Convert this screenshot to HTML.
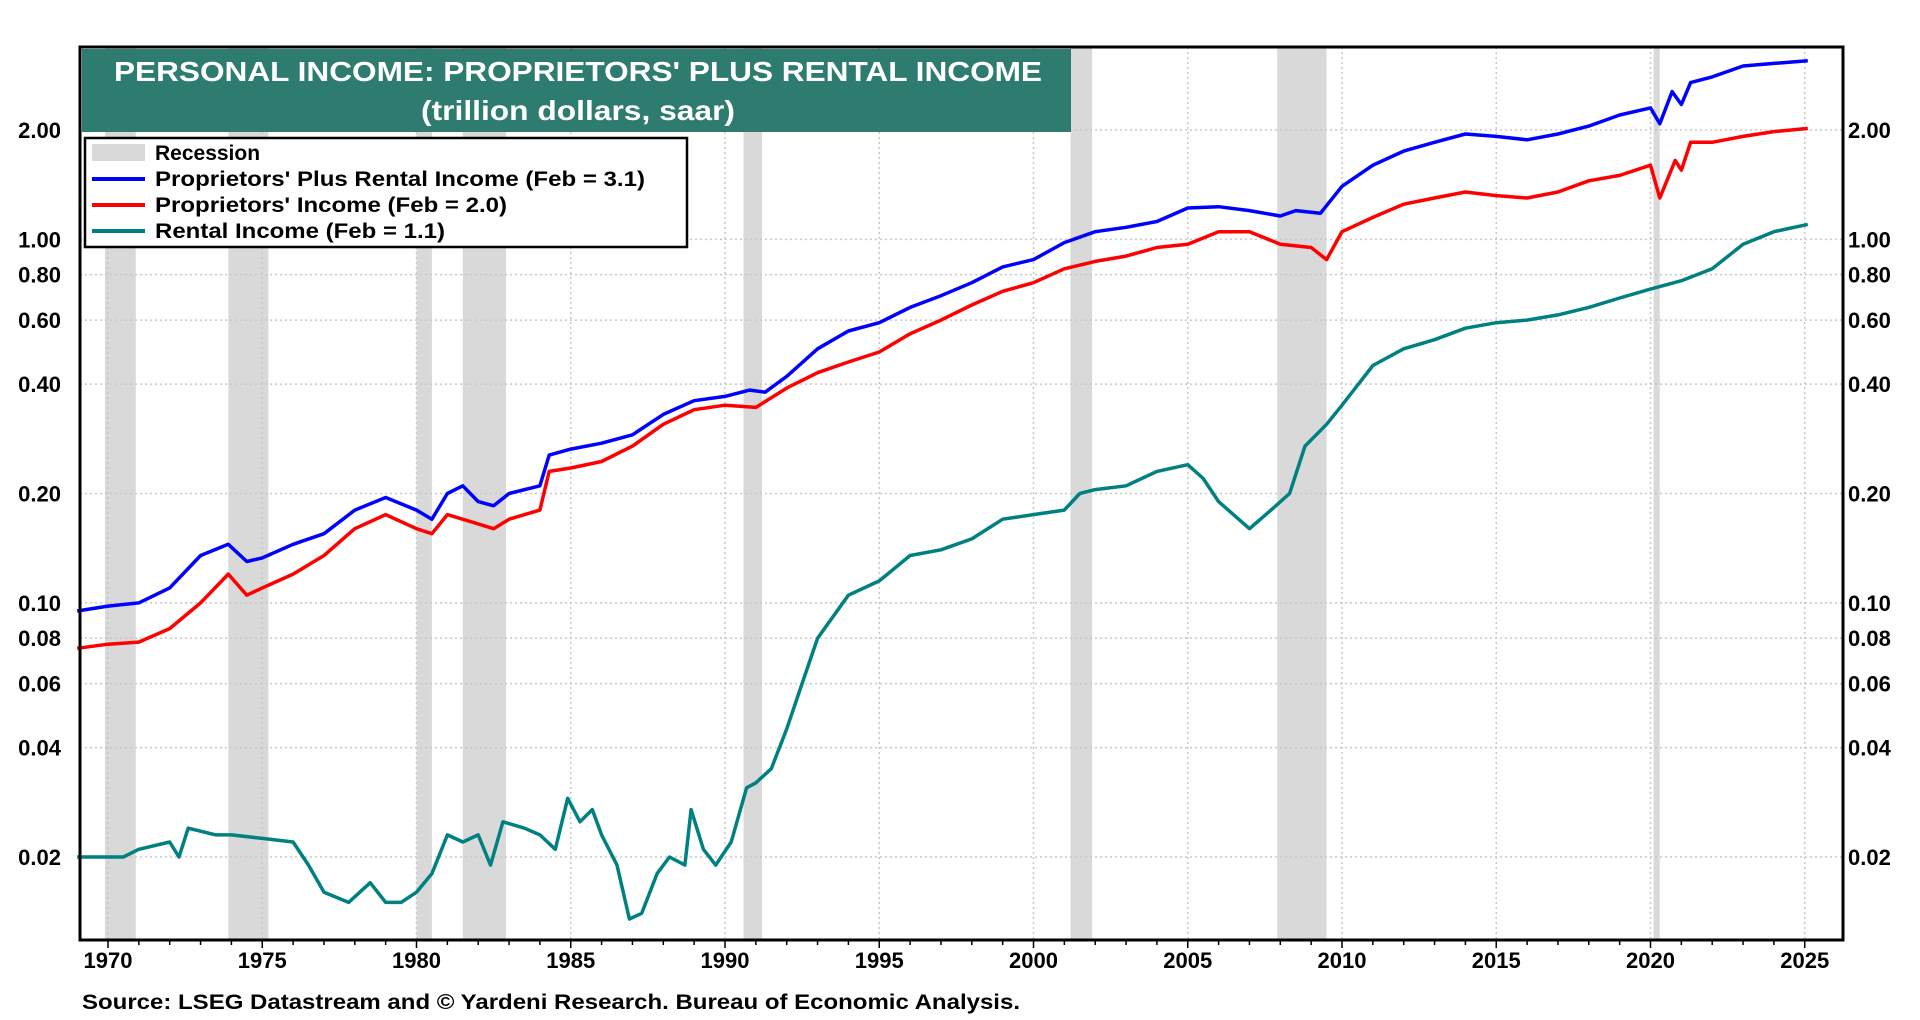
<!DOCTYPE html>
<html><head><meta charset="utf-8"><style>
html,body{margin:0;padding:0;background:#fff;}
svg{display:block;font-family:"Liberation Sans",Arial,sans-serif;font-weight:bold;}
</style></head><body>
<svg id="chart" width="1920" height="1020" viewBox="0 0 1920 1020">
<g id="rec"></g>
<g id="grid"></g>
<g id="series"></g>
<rect x="80" y="47" width="1763" height="893" fill="none" stroke="#000" stroke-width="3"/>
<g id="axes"></g>
<g>
<rect x="82" y="49" width="989" height="83" fill="#2e7b6f"/>
<text x="578" y="81" fill="#fff" font-size="28" text-anchor="middle" textLength="928" lengthAdjust="spacingAndGlyphs">PERSONAL INCOME: PROPRIETORS' PLUS  RENTAL INCOME</text>
<text x="578" y="120" fill="#fff" font-size="28" text-anchor="middle" textLength="314" lengthAdjust="spacingAndGlyphs">(trillion dollars, saar)</text>
</g>
<g>
<rect x="85" y="138" width="602" height="109" fill="#fff" stroke="#000" stroke-width="2.5"/>
<rect x="92" y="144" width="53" height="17" fill="#d9d9d9"/>
<text x="155" y="160" font-size="21">Recession</text>
<line x1="92" y1="179" x2="145" y2="179" stroke="#0000ff" stroke-width="4"/>
<text x="155" y="186" font-size="21" textLength="490" lengthAdjust="spacingAndGlyphs">Proprietors' Plus Rental Income (Feb = 3.1)</text>
<line x1="92" y1="205" x2="145" y2="205" stroke="#ff0000" stroke-width="4"/>
<text x="155" y="212" font-size="21" textLength="352" lengthAdjust="spacingAndGlyphs">Proprietors' Income (Feb = 2.0)</text>
<line x1="92" y1="231" x2="145" y2="231" stroke="#008080" stroke-width="4"/>
<text x="155" y="238" font-size="21" textLength="290" lengthAdjust="spacingAndGlyphs">Rental Income (Feb = 1.1)</text>
</g>
<text x="82" y="1009" font-size="21" textLength="938" lengthAdjust="spacingAndGlyphs">Source: LSEG Datastream and © Yardeni Research. Bureau of Economic Analysis.</text>
</svg>
<script>
const recessions=[[1969.9,1970.9],[1973.9,1975.2],[1980.0,1980.5],[1981.5,1982.9],[1990.6,1991.2],[2001.2,2001.9],[2007.9,2009.5],[2020.1,2020.3]];
const yTicks=[0.02,0.04,0.06,0.08,0.10,0.20,0.40,0.60,0.80,1.00,2.00];
const yTickLabels=["0.02","0.04","0.06","0.08","0.10","0.20","0.40","0.60","0.80","1.00","2.00"];
const xTicks=[1970,1975,1980,1985,1990,1995,2000,2005,2010,2015,2020,2025];
const totalYears=[1969,1970,1971,1972,1973,1973.9,1974.5,1975,1976,1977,1978,1979,1980,1980.5,1981,1981.5,1982,1982.5,1983,1984,1984.3,1985,1986,1987,1988,1989,1990,1990.8,1991.3,1992,1993,1994,1995,1996,1997,1998,1999,2000,2001,2002,2003,2004,2005,2006,2007,2008,2008.5,2009.3,2010,2011,2012,2013,2014,2015,2016,2017,2018,2019,2020,2020.3,2020.7,2021,2021.3,2022,2023,2024,2025.1];
const totalValues=[0.095,0.098,0.10,0.11,0.135,0.145,0.13,0.133,0.145,0.155,0.18,0.195,0.18,0.17,0.2,0.21,0.19,0.185,0.2,0.21,0.255,0.265,0.275,0.29,0.33,0.36,0.37,0.385,0.38,0.42,0.5,0.56,0.59,0.65,0.7,0.76,0.84,0.88,0.98,1.05,1.08,1.12,1.22,1.23,1.2,1.16,1.2,1.18,1.4,1.6,1.75,1.85,1.95,1.92,1.88,1.95,2.05,2.2,2.3,2.08,2.55,2.35,2.7,2.8,3.0,3.05,3.1];
const propYears=[1969,1970,1971,1972,1973,1973.9,1974.5,1975,1976,1977,1978,1979,1980,1980.5,1981,1982,1982.5,1983,1984,1984.3,1985,1986,1987,1988,1989,1990,1991,1992,1993,1994,1995,1996,1997,1998,1999,2000,2001,2002,2003,2004,2005,2006,2007,2008,2009,2009.5,2010,2011,2012,2013,2014,2015,2016,2017,2018,2019,2020,2020.3,2020.8,2021,2021.3,2022,2023,2024,2025.1];
const propValues=[0.075,0.077,0.078,0.085,0.1,0.12,0.105,0.11,0.12,0.135,0.16,0.175,0.16,0.155,0.175,0.165,0.16,0.17,0.18,0.23,0.235,0.245,0.27,0.31,0.34,0.35,0.345,0.39,0.43,0.46,0.49,0.55,0.6,0.66,0.72,0.76,0.83,0.87,0.9,0.95,0.97,1.05,1.05,0.97,0.95,0.88,1.05,1.15,1.25,1.3,1.35,1.32,1.3,1.35,1.45,1.5,1.6,1.3,1.65,1.55,1.85,1.85,1.92,1.98,2.02];
const rentYears=[1969,1970.5,1971,1972,1972.3,1972.6,1973.5,1974,1975,1976,1976.5,1977,1977.8,1978.5,1979,1979.5,1980,1980.5,1981,1981.5,1982,1982.4,1982.8,1983.5,1984,1984.5,1984.9,1985.3,1985.7,1986,1986.5,1986.9,1987.3,1987.8,1988.2,1988.7,1988.9,1989.3,1989.7,1990.2,1990.7,1991,1991.5,1992,1992.5,1993,1994,1995,1996,1997,1998,1999,2000,2001,2001.5,2002,2003,2004,2005,2005.5,2006,2007,2007.7,2008.3,2008.8,2009.5,2010,2011,2012,2013,2014,2015,2016,2017,2018,2019,2020,2021,2022,2023,2024,2025.1];
const rentValues=[0.02,0.02,0.021,0.022,0.02,0.024,0.023,0.023,0.0225,0.022,0.019,0.016,0.015,0.017,0.015,0.015,0.016,0.018,0.023,0.022,0.023,0.019,0.025,0.024,0.023,0.021,0.029,0.025,0.027,0.023,0.019,0.0135,0.014,0.018,0.02,0.019,0.027,0.021,0.019,0.022,0.031,0.032,0.035,0.045,0.06,0.08,0.105,0.115,0.135,0.14,0.15,0.17,0.175,0.18,0.2,0.205,0.21,0.23,0.24,0.22,0.19,0.16,0.18,0.2,0.27,0.31,0.35,0.45,0.5,0.53,0.57,0.59,0.6,0.62,0.65,0.69,0.73,0.77,0.83,0.97,1.05,1.1];

const NS="http://www.w3.org/2000/svg";
const X0=80,X1=1843,Y0=47,Y1=940;
function xs(yr){return 108+(yr-1970)*30.85;}
function ys(v){return 130-Math.log10(v/2)*363.5;}
function mk(tag,attrs,parent){const e=document.createElementNS(NS,tag);for(const k in attrs)e.setAttribute(k,attrs[k]);parent.appendChild(e);return e;}
const rec=document.getElementById('rec'),grid=document.getElementById('grid'),ser=document.getElementById('series'),axes=document.getElementById('axes');
recessions.forEach(r=>{
  const e=mk('rect',{x:xs(r[0]),y:Y0,width:xs(r[1])-xs(r[0]),height:Y1-Y0,fill:'#d9d9d9'},rec);
  
  
});
yTicks.forEach((v,i)=>{
  const y=ys(v);
  const l=mk('line',{x1:X0,x2:X1,y1:y,y2:y,stroke:'#c8c8c8','stroke-width':1.5,'stroke-dasharray':'2,3'},grid);
  
  
  const t1=mk('text',{x:61,y:y+8,'font-size':22,'text-anchor':'end'},axes);t1.textContent=yTickLabels[i];
  
  
  const t2=mk('text',{x:1848,y:y+8,'font-size':22},axes);t2.textContent=yTickLabels[i];
  
  
});
xTicks.forEach(yr=>{
  const x=xs(yr);
  const l=mk('line',{x1:x,x2:x,y1:Y0,y2:Y1,stroke:'#c8c8c8','stroke-width':1.5,'stroke-dasharray':'2,3'},grid);
  
  
  const t=mk('text',{x:x,y:968,'font-size':22,'text-anchor':'middle'},axes);t.textContent=yr;
  
  
});
for(let yr=1970;yr<=2025;yr++){
  const x=xs(yr);
  const l=mk('line',{x1:x,x2:x,y1:Y1,y2:Y1+(yr%5===0?8:5),stroke:'#000','stroke-width':1.5},axes);
  
  
}
function line(years,vals,color,name){
  const d=years.map((yr,i)=>(i?'L':'M')+xs(yr).toFixed(1)+','+ys(vals[i]).toFixed(1)).join(' ');
  const p=mk('path',{d:d,fill:'none',stroke:color,'stroke-width':3.5,'stroke-linejoin':'round'},ser);
  
  
}
line(rentYears,rentValues,'#008080','rental-income-line');
line(propYears,propValues,'#ff0000','proprietors-income-line');
line(totalYears,totalValues,'#0000ff','total-income-line');
</script>
</body></html>
